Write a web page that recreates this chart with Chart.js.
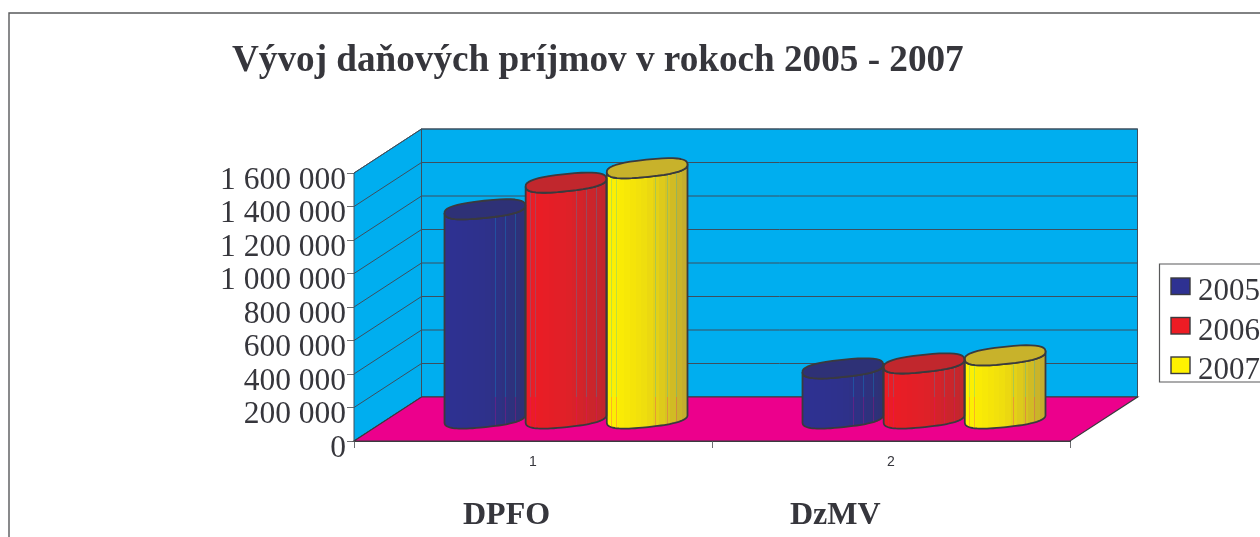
<!DOCTYPE html>
<html lang="sk">
<head>
<meta charset="utf-8">
<title>Vývoj daňových príjmov</title>
<script src="https://cdn.jsdelivr.net/npm/chart.js@4/dist/chart.umd.js"></script>
<style>html,body{margin:0;padding:0;background:#fff;overflow:hidden}canvas{display:block}</style>
</head>
<body>
<canvas id="c" width="1260" height="537"></canvas>
<script>
const categories = ['1', '2'];
const groupNames = ['DPFO', 'DzMV'];
const chartTitle = 'Vývoj daňových príjmov v rokoch 2005 - 2007';
const seriesNames = ['2005', '2006', '2007'];
const values2005 = [1252000, 302000];
const values2006 = [1411000, 332000];
const values2007 = [1497000, 380000];

const INK = '#36363c';
const EDGE = '#3a3a3e';
const GRID = '#3d4f5e';
const FRAME = '#58595b';
const WALL = '#00aeef';
const FLOOR = '#ec008c';
const DEPTH = {x: 67.5, y: -44};
const LIFT = {x: 33, y: -22};
const TILT = -0.105;
const RY = 8.6;
const ROUND = 0.78;
const palette = [
  {main: '#2e3192', side: [[46,49,146],[46,49,140],[46,49,118]], cap: '#2e3176', lines: [.62,.75,.87]},
  {main: '#ed1c24', side: [[237,28,36],[224,32,40],[193,39,45]], cap: '#c1272d', lines: [.06,.12,.62,.75,.87]},
  {main: '#fff200', side: [[255,242,0],[238,220,15],[196,173,46]], cap: '#c8b22b', lines: [.05,.12,.6,.74,.86]}
];

function bandGradient(ctx, x0, x1, s) {
  const g = ctx.createLinearGradient(x0, 0, x1, 0);
  const n = 14;
  for (let i = 0; i < n; i++) {
    const t = i / (n - 1);
    const a = t < .5 ? s[0] : s[1], b = t < .5 ? s[1] : s[2];
    const u = t < .5 ? t * 2 : (t - .5) * 2;
    const col = 'rgb(' + a.map((v, k) => Math.round(v + (b[k] - v) * u)).join(',') + ')';
    g.addColorStop(i / n, col);
    g.addColorStop((i + 1) / n, col);
  }
  return g;
}

// Rim of a cylinder: a slightly squared, tilted ellipse, walked from angle a0 to a1.
function rim(path, cx, cy, rx, a0, a1) {
  const steps = 40;
  const pow = v => Math.sign(v) * Math.pow(Math.abs(v), ROUND);
  const cs = Math.cos(TILT), sn = Math.sin(TILT);
  for (let i = 0; i <= steps; i++) {
    const a = a0 + (a1 - a0) * i / steps;
    const px = rx * pow(Math.cos(a)), py = RY * pow(Math.sin(a));
    path.lineTo(cx + px * cs - py * sn, cy + px * sn + py * cs);
  }
}

const cylinders = {
  id: 'cylinders',
  beforeDatasetDraw(chart, args) {
    const ctx = chart.ctx;
    const style = palette[args.index];
    const floorBack = chart.scales.y.getPixelForValue(0) + DEPTH.y;
    args.meta.data.forEach(el => {
      const cx = el.x + LIFT.x, rx = el.width / 2;
      const ty = el.y + LIFT.y, by = el.base + LIFT.y;
      const body = new Path2D();
      rim(body, cx, by, rx, Math.PI, 0);
      rim(body, cx, ty, rx, 0, Math.PI);
      body.closePath();
      const cap = new Path2D();
      rim(cap, cx, ty, rx, 0, Math.PI * 2);
      cap.closePath();
      ctx.save();
      ctx.fillStyle = bandGradient(ctx, cx - rx, cx + rx, style.side);
      ctx.fill(body);
      ctx.save();
      ctx.clip(body);
      ctx.lineWidth = 1;
      style.lines.forEach(f => {
        const x = Math.round(cx - rx + f * 2 * rx) + .5;
        ctx.strokeStyle = 'rgba(0,174,239,.25)';
        ctx.beginPath(); ctx.moveTo(x, ty - 20); ctx.lineTo(x, floorBack); ctx.stroke();
        ctx.strokeStyle = 'rgba(236,0,140,.25)';
        ctx.beginPath(); ctx.moveTo(x, floorBack); ctx.lineTo(x, by + 20); ctx.stroke();
      });
      ctx.restore();
      ctx.strokeStyle = EDGE;
      ctx.lineWidth = 1.8;
      ctx.lineJoin = 'round';
      ctx.stroke(body);
      ctx.fillStyle = style.cap;
      ctx.fill(cap);
      ctx.stroke(cap);
      ctx.restore();
    });
    return false;
  }
};

const scene = {
  id: 'scene',
  beforeDatasetsDraw(chart) {
    const ctx = chart.ctx, xs = chart.scales.x, ys = chart.scales.y;
    const L = xs.left, R = xs.right, B = ys.getPixelForValue(0), T = ys.getPixelForValue(1600000);
    const dx = DEPTH.x, dy = DEPTH.y;
    ctx.save();
    ctx.lineWidth = 1;
    ctx.strokeStyle = GRID;
    ctx.fillStyle = WALL;
    ctx.fillRect(L + dx, T + dy, R - L, B - T);
    ctx.beginPath();
    ctx.moveTo(L, B); ctx.lineTo(L + dx, B + dy); ctx.lineTo(L + dx, T + dy); ctx.lineTo(L, T); ctx.closePath();
    ctx.fill();
    ctx.stroke();
    ctx.strokeRect(L + dx, T + dy, R - L, B - T);
    ys.ticks.forEach(t => {
      const y = ys.getPixelForValue(t.value);
      ctx.beginPath();
      ctx.moveTo(L, y); ctx.lineTo(L + dx, y + dy); ctx.lineTo(R + dx, y + dy);
      ctx.stroke();
    });
    ctx.fillStyle = FLOOR;
    ctx.beginPath();
    ctx.moveTo(L, B); ctx.lineTo(L + dx, B + dy); ctx.lineTo(R + dx, B + dy); ctx.lineTo(R, B); ctx.closePath();
    ctx.fill();
    ctx.strokeStyle = EDGE;
    ctx.lineWidth = 1.2;
    ctx.stroke();
    ctx.restore();
  },
  afterDraw(chart) {
    const ctx = chart.ctx;
    ctx.save();
    ctx.strokeStyle = FRAME;
    ctx.lineWidth = 1.4;
    ctx.beginPath();
    ctx.moveTo(9, 537); ctx.lineTo(9, 13); ctx.lineTo(1260, 13);
    ctx.stroke();
    ctx.fillStyle = INK;
    ctx.textBaseline = 'alphabetic';
    ctx.textAlign = 'left';
    ctx.font = 'bold 37.2px "Liberation Serif"';
    ctx.fillText(chartTitle, 232, 71);
    ctx.font = 'bold 32px "Liberation Serif"';
    ctx.fillText(groupNames[0], 463, 524);
    ctx.fillText(groupNames[1], 790, 524);
    ctx.strokeStyle = FRAME;
    ctx.lineWidth = 1.2;
    ctx.beginPath();
    ctx.moveTo(1262, 264); ctx.lineTo(1159.5, 264); ctx.lineTo(1159.5, 382); ctx.lineTo(1262, 382);
    ctx.stroke();
    const sy = [278, 317.5, 357], by = [300, 339.5, 379];
    seriesNames.forEach((name, i) => {
      ctx.fillStyle = palette[i].main;
      ctx.fillRect(1171, sy[i], 19, 16.5);
      ctx.strokeStyle = EDGE;
      ctx.lineWidth = 1.4;
      ctx.strokeRect(1171, sy[i], 19, 16.5);
      ctx.fillStyle = INK;
      ctx.font = '31px "Liberation Serif"';
      ctx.fillText(name, 1198, by[i]);
    });
    ctx.restore();
  }
};

new Chart(document.getElementById('c'), {
  type: 'bar',
  data: {
    labels: categories,
    datasets: [
      {label: seriesNames[0], data: values2005, backgroundColor: palette[0].main},
      {label: seriesNames[1], data: values2006, backgroundColor: palette[1].main},
      {label: seriesNames[2], data: values2007, backgroundColor: palette[2].main}
    ]
  },
  options: {
    responsive: false,
    animation: false,
    devicePixelRatio: 1,
    layout: {padding: {top: 173, right: 190, left: 0, bottom: 0}},
    datasets: {bar: {categoryPercentage: 0.68, barPercentage: 1}},
    plugins: {legend: {display: false}, title: {display: false}, tooltip: {enabled: false}},
    scales: {
      x: {
        grid: {display: true, drawOnChartArea: false, offset: true, tickLength: 7, color: '#6d6e71'},
        border: {display: true, color: EDGE},
        ticks: {font: {family: '"Liberation Sans"', size: 14}, color: INK, padding: 6, maxRotation: 0},
        afterFit(s) { s.height = 96; }
      },
      y: {
        min: 0, max: 1600000,
        grid: {display: true, drawOnChartArea: false, tickLength: 7, color: '#6d6e71'},
        border: {display: true, color: '#6d6e71'},
        ticks: {
          stepSize: 200000, autoSkip: false, padding: 1, labelOffset: 7.5,
          font: {family: '"Liberation Serif"', size: 31.5}, color: INK,
          callback: v => String(v).replace(/\B(?=(\d{3})+$)/g, ' ')
        },
        afterFit(s) { s.width = 354; }
      }
    }
  },
  plugins: [scene, cylinders]
});
</script>
</body>
</html>
